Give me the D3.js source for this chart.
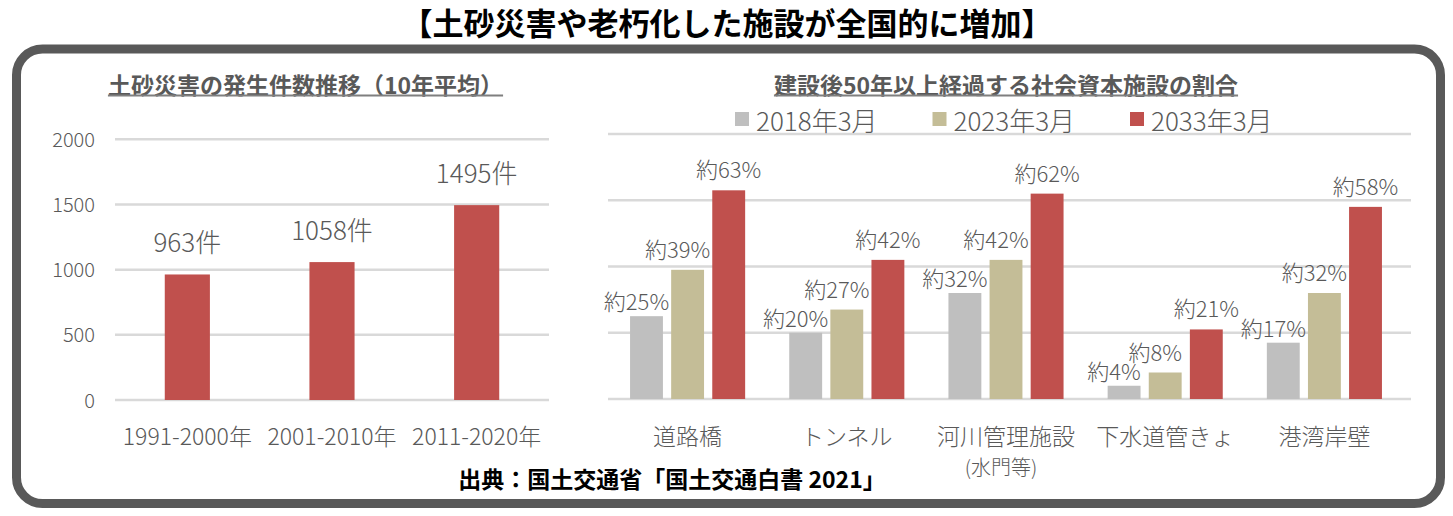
<!DOCTYPE html>
<html>
<head>
<meta charset="utf-8">
<script src="https://cdn.jsdelivr.net/npm/d3@7"></script>
<style>
  html, body { margin: 0; padding: 0; background: #fff; }
  svg { display: block; font-family: "Noto Sans CJK JP", "Noto Sans", sans-serif; }
  .thin { font-weight: 300; }
</style>
</head>
<body>
<svg id="chart" width="1453" height="516"></svg>
<script>
// ---- data ----
const mainTitle = "【土砂災害や老朽化した施設が全国的に増加】";
const leftTitle = "土砂災害の発生件数推移（10年平均）";
const rightTitle = "建設後50年以上経過する社会資本施設の割合";
const sourceText = "出典：国土交通省「国土交通白書 2021」";

const periods = ["1991-2000年", "2001-2010年", "2011-2020年"];
const disasterCounts = [963, 1058, 1495];
const leftTicks = [0, 500, 1000, 1500, 2000];

const facilities = ["道路橋", "トンネル", "河川管理施設\n(水門等)", "下水道管きょ", "港湾岸壁"];
const seriesNames = ["2018年3月", "2023年3月", "2033年3月"];
const share2018 = [25, 20, 32, 4, 17];
const share2023 = [39, 27, 42, 8, 32];
const share2033 = [63, 42, 62, 21, 58];
const rightTicks = [0, 20, 40, 60, 80];

// ---- styles ----
const textColor = "#595959";
const gridColor = "#D9D9D9";
const seriesColors = ["#BFBFBF", "#C4BD97", "#C0504D"];
const barRed = "#C0504D";

const svg = d3.select("#chart");

// frame
svg.append("rect")
  .attr("x", 16.5).attr("y", 49)
  .attr("width", 1424).attr("height", 454.5)
  .attr("rx", 26).attr("ry", 26)
  .attr("fill", "#fff")
  .attr("stroke", "#595959")
  .attr("stroke-width", 9);

// main title
svg.append("text")
  .attr("x", 727).attr("y", 21)
  .attr("text-anchor", "middle").attr("dominant-baseline", "central")
  .attr("font-size", 31).attr("font-weight", "bold").attr("fill", "#000")
  .text(mainTitle);

// subtitles with underline
function subtitle(text, cx) {
  const t = svg.append("text")
    .attr("x", cx).attr("y", 84)
    .attr("text-anchor", "middle").attr("dominant-baseline", "central")
    .attr("font-size", 23).attr("font-weight", "bold").attr("fill", textColor)
    .text(text);
  const bb = t.node().getBBox();
  svg.append("line")
    .attr("x1", bb.x).attr("x2", bb.x + bb.width)
    .attr("y1", 95.5).attr("y2", 95.5)
    .attr("stroke", "#7F7F7F").attr("stroke-width", 2);
}
subtitle(leftTitle, 305.5);
subtitle(rightTitle, 1006);

// ---- left chart ----
const xL = d3.scaleBand().domain(periods).range([115, 549]).paddingInner(0.688).paddingOuter(0.344);
const yL = d3.scaleLinear().domain([0, 2000]).range([400, 139.3]);

const gL = svg.append("g");
gL.selectAll("line.grid").data(leftTicks).join("line")
  .attr("class", "grid")
  .attr("x1", 115).attr("x2", 549)
  .attr("y1", d => yL(d)).attr("y2", d => yL(d))
  .attr("stroke", gridColor).attr("stroke-width", 2.5);

const axL = d3.axisLeft(yL).tickValues(leftTicks).tickFormat(d3.format("d")).tickSize(0).tickPadding(0);
const axLG = gL.append("g").attr("transform", "translate(95,0)").call(axL);
axLG.select(".domain").remove();
axLG.selectAll("text").attr("class", "thin").attr("font-size", 20).attr("fill", textColor)
  .attr("font-family", "Noto Sans CJK JP").attr("dy", "0.35em");

gL.selectAll("rect.bar").data(disasterCounts).join("rect")
  .attr("class", "bar")
  .attr("x", (d, i) => xL(periods[i]))
  .attr("width", xL.bandwidth())
  .attr("y", d => yL(d))
  .attr("height", d => yL(0) - yL(d))
  .attr("fill", barRed);

gL.selectAll("text.val").data(disasterCounts).join("text")
  .attr("class", "val thin")
  .attr("x", (d, i) => xL(periods[i]) + xL.bandwidth() / 2)
  .attr("y", d => yL(d) - 34)
  .attr("text-anchor", "middle").attr("dominant-baseline", "central")
  .attr("font-size", 26).attr("fill", textColor)
  .text(d => d + "件");

const axLX = d3.axisBottom(xL).tickSize(0).tickPadding(0);
const axLXG = gL.append("g").attr("transform", "translate(0,437)").call(axLX);
axLXG.select(".domain").remove();
axLXG.selectAll("text").attr("class", "thin").attr("font-size", 23).attr("fill", textColor)
  .attr("font-family", "Noto Sans CJK JP").attr("dy", "0.35em");

// ---- right chart ----
const xR = d3.scaleBand().domain(facilities).range([608, 1404]).paddingInner(0.277).paddingOuter(0.1385);
const xS = d3.scaleBand().domain(seriesNames).range([0, xR.bandwidth()]).paddingInner(0.2);
const yR = d3.scaleLinear().domain([0, 80]).range([399, 134]);

const gR = svg.append("g");
gR.selectAll("line.grid").data(rightTicks).join("line")
  .attr("class", "grid")
  .attr("x1", 608).attr("x2", 1411)
  .attr("y1", d => yR(d)).attr("y2", d => yR(d))
  .attr("stroke", gridColor).attr("stroke-width", 2.5);

const seriesData = [share2018, share2023, share2033];
const labelDx = [-10, -10, 0];
const labelDy = [16, 22, 22];

seriesData.forEach((vals, si) => {
  const g = gR.append("g");
  g.selectAll("rect").data(vals).join("rect")
    .attr("x", (d, i) => xR(facilities[i]) + xS(seriesNames[si]))
    .attr("width", xS.bandwidth())
    .attr("y", d => yR(d))
    .attr("height", d => yR(0) - yR(d))
    .attr("fill", seriesColors[si]);
  g.selectAll("text").data(vals).join("text")
    .attr("class", "thin")
    .attr("x", (d, i) => xR(facilities[i]) + xS(seriesNames[si]) + xS.bandwidth() / 2 + labelDx[si])
    .attr("y", d => yR(d) - labelDy[si])
    .attr("text-anchor", "middle").attr("dominant-baseline", "central")
    .attr("font-size", 22).attr("fill", textColor)
    .text(d => "約" + d + "%");
});

// right category labels
const catG = gR.append("g");
facilities.forEach(f => {
  const lines = f.split("\n");
  const cx = xR(f) + xR.bandwidth() / 2;
  const t = catG.append("text")
    .attr("class", "thin")
    .attr("x", cx).attr("y", 437)
    .attr("text-anchor", "middle")
    .attr("fill", textColor);
  t.append("tspan").attr("x", cx).attr("dy", "0.35em").attr("font-size", 23).text(lines[0]);
  if (lines[1]) {
    t.append("tspan").attr("x", cx - 5).attr("dy", 30).attr("font-size", 20).text(lines[1]);
  }
});

// legend
const legend = gR.append("g");
seriesNames.forEach((s, i) => {
  const x0 = 735 + i * 197.5;
  legend.append("rect").attr("x", x0).attr("y", 112).attr("width", 14).attr("height", 14)
    .attr("fill", seriesColors[i]);
  legend.append("text").attr("class", "thin").attr("x", x0 + 21).attr("y", 119)
    .attr("dominant-baseline", "central")
    .attr("font-size", 26).attr("fill", textColor)
    .text(s);
});

// source
svg.append("text")
  .attr("x", 672).attr("y", 478)
  .attr("text-anchor", "middle").attr("dominant-baseline", "central")
  .attr("font-size", 23).attr("font-weight", "bold").attr("fill", "#000")
  .text(sourceText);
</script>
</body>
</html>
